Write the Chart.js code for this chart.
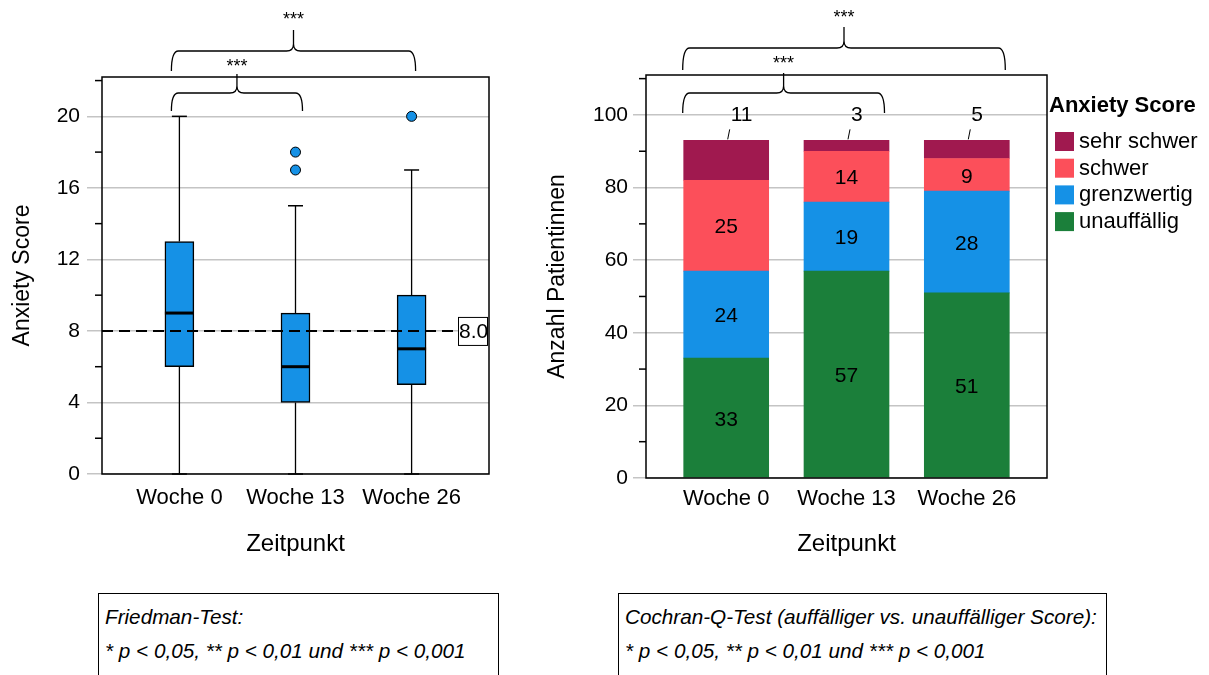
<!DOCTYPE html>
<html lang="de">
<head>
<meta charset="UTF-8">
<title>Anxiety Score im Verlauf</title>
<script src="https://cdn.jsdelivr.net/npm/chart.js@4.4.1/dist/chart.umd.min.js"></script>
<style>
    body {
        margin: 0;
        width: 1209px;
        height: 675px;
        position: relative;
        overflow: hidden;
        background: #fff;
        font-family: "Liberation Sans", Arial, sans-serif;
    }
    .panel {
        position: absolute;
        top: 0;
        height: 580px;
    }
    #links { left: 0; width: 540px; }
    #rechts { left: 540px; width: 669px; }
    .hinweis {
        position: absolute;
        top: 593px;
        height: 110px;
        box-sizing: border-box;
        border: 1.5px solid #000;
        padding: 6px 0 0 6px;
        font-style: italic;
        font-size: 20.7px;
        line-height: 34px;
        color: #000;
        white-space: nowrap;
    }
</style>
</head>
<body>
<div class="panel" id="links"><canvas id="boxChart"></canvas></div>
<div class="panel" id="rechts"><canvas id="barChart"></canvas></div>
<div class="hinweis" style="left:98px; width:401px;">Friedman-Test:<br>* p &lt; 0,05, ** p &lt; 0,01 und *** p &lt; 0,001</div>
<div class="hinweis" style="left:618px; width:489px;">Cochran-Q-Test (auffälliger vs. unauffälliger Score):<br>* p &lt; 0,05, ** p &lt; 0,01 und *** p &lt; 0,001</div>

<script>
    // Zeitpunkte (x-Achse beider Diagramme)
    const zeitpunkte = ['Woche 0', 'Woche 13', 'Woche 26'];

    // Boxplot Anxiety Score
    const minimum = [0, 0, 0];
    const q1 = [6, 4, 5];
    const median = [9, 6, 7];
    const q3 = [13, 9, 10];
    const maximum = [20, 15, 17];
    const ausreisser = [[], [17, 18], [20]];
    const grenzwert = 8;
    const ticksLinks = [0, 2, 4, 6, 8, 10, 12, 14, 16, 18, 20, 22];

    // gestapelte Balken: Anzahl Patientinnen je Kategorie
    const unauffaellig = [33, 57, 51];
    const grenzwertig = [24, 19, 28];
    const schwer = [25, 14, 9];
    const sehrSchwer = [11, 3, 5];
    const ticksRechts = [0, 10, 20, 30, 40, 50, 60, 70, 80, 90, 100, 110];

    const blau = '#1591e6';
    const gruen = '#1b7f3a';
    const rot = '#fc4f5a';
    const lila = '#a0194f';
    const grau = '#c4c4c4';
    const schrift = '"Liberation Sans", Arial, sans-serif';

    Chart.defaults.font.family = schrift;
    Chart.defaults.color = '#000';

    // geschweifte Klammer fuer die Signifikanzen
    function klammer(ctx, x1, x2, yLinie, yEnde, ySpitze, r) {
        const xm = (x1 + x2) / 2;
        ctx.beginPath();
        ctx.moveTo(x1, yEnde);
        ctx.quadraticCurveTo(x1, yLinie, x1 + r, yLinie);
        ctx.lineTo(xm - r, yLinie);
        ctx.quadraticCurveTo(xm, yLinie, xm, yLinie - r);
        ctx.lineTo(xm, ySpitze);
        ctx.moveTo(xm, yLinie - r);
        ctx.quadraticCurveTo(xm, yLinie, xm + r, yLinie);
        ctx.lineTo(x2 - r, yLinie);
        ctx.quadraticCurveTo(x2, yLinie, x2, yEnde);
        ctx.stroke();
        return xm;
    }

    // Rahmen, kleine Striche an der y-Achse und Klammern
    const rahmenPlugin = {
        id: 'rahmen',
        afterDraw(chart, args, opts) {
            const {ctx, chartArea: a, scales: {x, y}} = chart;
            ctx.save();
            ctx.strokeStyle = '#000';
            ctx.lineWidth = 1.5;
            y.ticks.forEach(t => {
                if (t.value % opts.haupt === 0) return;
                const py = y.getPixelForValue(t.value);
                ctx.beginPath();
                ctx.moveTo(a.left - 7, py);
                ctx.lineTo(a.left, py);
                ctx.stroke();
            });
            ctx.strokeRect(a.left, a.top, a.right - a.left, a.bottom - a.top);

            ctx.lineWidth = 1.3;
            ctx.fillStyle = '#000';
            ctx.font = '18px ' + schrift;
            ctx.textAlign = 'center';
            ctx.textBaseline = 'middle';
            opts.klammern.forEach(k => {
                const x1 = x.getPixelForValue(k.von) + k.dl;
                const x2 = x.getPixelForValue(k.bis) + k.dr;
                const xm = klammer(ctx, x1, x2, a.top + k.linie, a.top + k.ende, a.top + k.spitze, 7);
                ctx.fillText('***', xm, a.top + k.text);
            });
            ctx.restore();
        }
    };

    // Beschriftung der gestrichelten Linie
    const grenzwertPlugin = {
        id: 'grenzwertLabel',
        afterDatasetsDraw(chart) {
            const {ctx, chartArea: a, scales: {y}} = chart;
            const py = y.getPixelForValue(grenzwert);
            const bx = a.right - 31, bw = 29, bh = 28;
            ctx.save();
            ctx.fillStyle = '#fff';
            ctx.fillRect(bx, py - 14, bw + 2, bh);
            ctx.strokeStyle = '#000';
            ctx.lineWidth = 1;
            ctx.strokeRect(bx + 0.5, py - 13.5, bw, bh);
            ctx.beginPath();
            ctx.rect(bx, py - 14, bw, bh);
            ctx.clip();
            ctx.fillStyle = '#000';
            ctx.font = '21px ' + schrift;
            ctx.textAlign = 'left';
            ctx.textBaseline = 'middle';
            ctx.fillText(grenzwert.toFixed(1), bx + 1, py + 1);
            ctx.restore();
        }
    };

    // Zahlen in den Balken
    const wertePlugin = {
        id: 'werte',
        afterDatasetsDraw(chart) {
            const {ctx} = chart;
            const n = chart.data.datasets.length;
            ctx.save();
            ctx.font = '21px ' + schrift;
            ctx.fillStyle = '#000';
            ctx.strokeStyle = '#000';
            ctx.lineWidth = 1;
            ctx.textBaseline = 'middle';
            chart.data.datasets.forEach((d, di) => {
                chart.getDatasetMeta(di).data.forEach((bar, i) => {
                    const wert = d.data[i].y;
                    if (di < n - 1) {
                        ctx.textAlign = 'center';
                        ctx.fillText(wert, bar.x, (bar.y + bar.base) / 2 + 2);
                    } else {
                        ctx.beginPath();
                        ctx.moveTo(bar.x + 1.5, bar.y - 1);
                        ctx.lineTo(bar.x + 3.5, bar.y - 11);
                        ctx.stroke();
                        ctx.textAlign = 'left';
                        ctx.fillText(wert, bar.x + 4.5, bar.y - 25);
                    }
                });
            });
            ctx.restore();
        }
    };

    // Legende rechts neben dem Balkendiagramm
    const legendePlugin = {
        id: 'legende',
        afterDraw(chart) {
            const {ctx, chartArea: a} = chart;
            const x0 = a.right;
            ctx.save();
            ctx.textAlign = 'left';
            ctx.textBaseline = 'middle';
            ctx.fillStyle = '#000';
            ctx.font = 'bold 22px ' + schrift;
            ctx.fillText('Anxiety Score', x0 + 2, a.top + 31);
            ctx.font = '22px ' + schrift;
            chart.data.datasets.slice().reverse().forEach((d, j) => {
                const top = a.top + 57 + j * 26.7;
                ctx.fillStyle = d.backgroundColor;
                ctx.fillRect(x0 + 8, top, 19, 19);
                ctx.fillStyle = '#000';
                ctx.fillText(d.label, x0 + 32, top + 10);
            });
            ctx.restore();
        }
    };

    function xAchse(hoehe, abstand, groesse) {
        return {
            type: 'linear',
            min: -2 / 3,
            max: 2 + 2 / 3,
            offset: false,
            grid: { display: false, offset: false },
            border: { display: false },
            afterBuildTicks: s => { s.ticks = zeitpunkte.map((_, i) => ({ value: i })); },
            ticks: {
                autoSkip: false,
                maxRotation: 0,
                padding: abstand,
                font: { size: groesse },
                callback: v => zeitpunkte[v]
            },
            title: { display: true, text: 'Zeitpunkt', font: { size: 24 }, padding: { top: 0, bottom: 21 } },
            afterFit: s => { s.height = hoehe; }
        };
    }

    function yAchse(max, werte, haupt, titel, breite, tickLaenge, abstand, titelAbstand) {
        const farbe = c => (c.tick && c.tick.value % haupt === 0) ? grau : 'rgba(0,0,0,0)';
        return {
            min: 0,
            max: max,
            afterBuildTicks: s => { s.ticks = werte.map(v => ({ value: v })); },
            grid: { color: farbe, tickColor: farbe, lineWidth: 1.5, tickLength: tickLaenge },
            border: { display: false },
            ticks: { padding: abstand, font: { size: 21 }, callback: v => v % haupt === 0 ? v : '' },
            title: { display: true, text: titel, font: { size: 23 }, padding: { top: titelAbstand, bottom: 0 } },
            afterFit: s => { s.width = breite; }
        };
    }

    // Whisker als Linienstuecke, durch null getrennt
    const whiskerDaten = [];
    zeitpunkte.forEach((_, i) => {
        whiskerDaten.push({ x: i, y: q3[i] }, { x: i, y: maximum[i] }, { x: i, y: null });
        whiskerDaten.push({ x: i, y: q1[i] }, { x: i, y: minimum[i] }, { x: i, y: null });
    });

    new Chart(document.getElementById('boxChart'), {
        type: 'bar',
        data: {
            datasets: [
                {
                    type: 'line', label: 'Grenzwert',
                    data: [{ x: -2 / 3, y: grenzwert }, { x: 2 + 2 / 3, y: grenzwert }],
                    borderColor: '#000', borderWidth: 2, borderDash: [11, 6],
                    pointRadius: 0, order: 0
                },
                {
                    type: 'line', label: 'Median',
                    data: median.map((v, i) => ({ x: i, y: v })),
                    showLine: false, pointStyle: 'line', pointRadius: 14.5,
                    pointBorderWidth: 3, pointBorderColor: '#000', order: 1
                },
                {
                    type: 'line', label: 'Ausreißer',
                    data: ausreisser.flatMap((w, i) => w.map(v => ({ x: i, y: v }))),
                    showLine: false, pointStyle: 'circle', pointRadius: 5,
                    pointBackgroundColor: blau, pointBorderColor: '#000', pointBorderWidth: 1, order: 2
                },
                {
                    type: 'bar', label: 'Quartile',
                    data: q1.map((v, i) => ({ x: i, y: [v, q3[i]] })),
                    backgroundColor: blau, borderColor: '#000', borderWidth: 1.5,
                    borderSkipped: false, barThickness: 29, order: 3
                },
                {
                    type: 'line', label: 'Whisker-Enden',
                    data: maximum.map((v, i) => ({ x: i, y: v })).concat(minimum.map((v, i) => ({ x: i, y: v }))),
                    showLine: false, pointStyle: 'line', pointRadius: 7.5,
                    pointBorderWidth: 1.5, pointBorderColor: '#000', order: 4, clip: false
                },
                {
                    type: 'line', label: 'Whisker',
                    data: whiskerDaten,
                    borderColor: '#000', borderWidth: 1.3, pointRadius: 0, spanGaps: false, order: 5
                }
            ]
        },
        options: {
            responsive: true,
            maintainAspectRatio: false,
            animation: false,
            events: [],
            layout: { padding: { left: 0, top: 77, right: 51, bottom: 0 } },
            plugins: {
                legend: { display: false },
                tooltip: { enabled: false },
                rahmen: {
                    haupt: 4,
                    klammern: [
                        { von: 0, bis: 2, dl: -8, dr: 4, linie: -26, ende: -6, spitze: -47, text: -57 },
                        { von: 0, bis: 1, dl: -8, dr: 7, linie: 16, ende: 34, spitze: -3, text: -10 }
                    ]
                }
            },
            scales: {
                x: xAchse(106, 3, 22),
                y: yAchse(22.2, ticksLinks, 4, 'Anxiety Score', 102, 15, 7, 9)
            }
        },
        plugins: [grenzwertPlugin, rahmenPlugin]
    });

    const balken = [
        { label: 'unauffällig', werte: unauffaellig, farbe: gruen },
        { label: 'grenzwertig', werte: grenzwertig, farbe: blau },
        { label: 'schwer', werte: schwer, farbe: rot },
        { label: 'sehr schwer', werte: sehrSchwer, farbe: lila }
    ];

    new Chart(document.getElementById('barChart'), {
        type: 'bar',
        data: {
            datasets: balken.map(b => ({
                label: b.label,
                data: b.werte.map((v, i) => ({ x: i, y: v })),
                backgroundColor: b.farbe,
                borderWidth: 0,
                barThickness: 85,
                stack: 'anzahl'
            }))
        },
        options: {
            responsive: true,
            maintainAspectRatio: false,
            animation: false,
            events: [],
            layout: { padding: { left: 0, top: 75, right: 162, bottom: 0 } },
            plugins: {
                legend: { display: false },
                tooltip: { enabled: false },
                rahmen: {
                    haupt: 20,
                    klammern: [
                        { von: 0, bis: 2, dl: -43.5, dr: 38.5, linie: -27, ende: -5, spitze: -48, text: -57 },
                        { von: 0, bis: 1, dl: -43.5, dr: 38, linie: 18, ende: 38, spitze: -2, text: -11 }
                    ]
                }
            },
            scales: {
                x: Object.assign(xAchse(102, 0, 22), { stacked: true }),
                y: Object.assign(yAchse(111, ticksRechts, 20, 'Anzahl Patientinnen', 106, 13, 5, 4), { stacked: true })
            }
        },
        plugins: [wertePlugin, rahmenPlugin, legendePlugin]
    });
</script>
</body>
</html>
